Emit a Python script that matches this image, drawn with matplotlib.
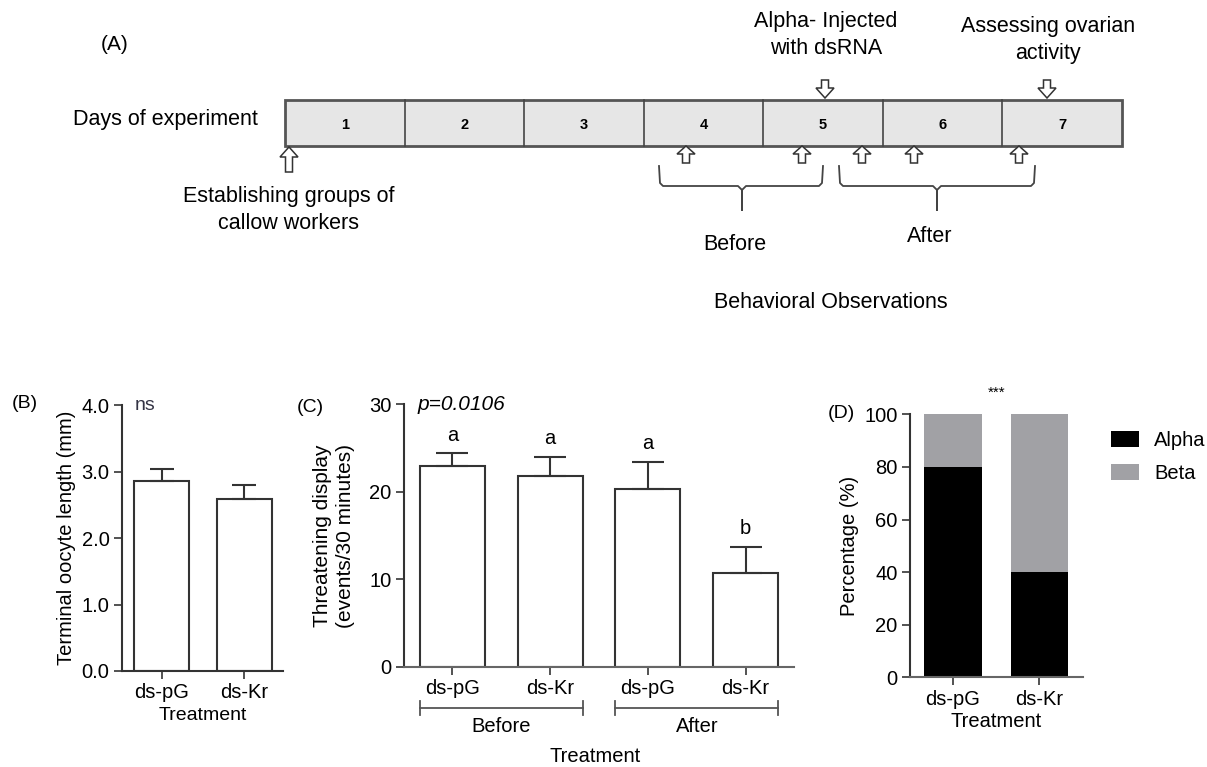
import matplotlib
matplotlib.use("Agg")
import matplotlib.pyplot as plt
import matplotlib.transforms as mtransforms
from matplotlib.patches import Rectangle, FancyArrow
import numpy as np

plt.rcParams['font.family'] = ['Liberation Sans', 'DejaVu Sans']

# ---------------- data ----------------
days = ["1", "2", "3", "4", "5", "6", "7"]
treat_B = ["ds-pG", "ds-Kr"]
oocyte_mean = [2.85, 2.58]
oocyte_sem = [0.19, 0.22]
B_yticks = [0.0, 1.0, 2.0, 3.0, 4.0]

treat_C = ["ds-pG", "ds-Kr", "ds-pG", "ds-Kr"]
threat_mean = [23.0, 21.8, 20.3, 10.7]
threat_sem = [1.4, 2.2, 3.1, 3.0]
threat_letters = ["a", "a", "a", "b"]
C_groups = ["Before", "After"]
C_yticks = [0, 10, 20, 30]

treat_D = ["ds-pG", "ds-Kr"]
alpha_pct = [80, 40]
beta_pct = [20, 60]
D_yticks = [0, 20, 40, 60, 80, 100]

W, H = 1207, 767
fig = plt.figure(figsize=(W / 100, H / 100), dpi=100)

def rect(l, t, r, b):
    return [l / W, 1 - b / H, (r - l) / W, (b - t) / H]

FS = 14
FSA = 15.5

# ---------------- Panel A (diagram) ----------------
axA = fig.add_axes([0, 0, 1, 1])
axA.set_xlim(0, W)
axA.set_ylim(H, 0)
axA.axis("off")

axA.text(115, 45, "(A)", fontsize=FSA - 0.5, ha="center", va="center")
axA.text(73, 120, "Days of experiment", fontsize=FSA, ha="left", va="center")

box_l, box_r, box_t, box_b = 285, 1122, 100, 146
cw = (box_r - box_l) / len(days)
axA.add_patch(Rectangle((box_l, box_t), box_r - box_l, box_b - box_t,
                        facecolor="#e6e6e6", edgecolor="#555555", lw=2.0))
for i, d in enumerate(days):
    if i > 0:
        axA.plot([box_l + i * cw] * 2, [box_t, box_b], color="#444444", lw=1.2)
    axA.text(box_l + (i + 0.5) * cw, 125, d, fontsize=10.5, fontweight="bold",
             ha="center", va="center")

def block_arrow(x, y_tail, y_tip, w=5, hw=14, hl=7):
    axA.add_patch(FancyArrow(x, y_tail, 0, y_tip - y_tail, width=w,
                             head_width=hw, head_length=hl,
                             length_includes_head=True,
                             facecolor="white", edgecolor="#333333", lw=1.1))

block_arrow(825, 80, 98, w=7, hw=18, hl=10)
block_arrow(1047, 80, 98, w=7, hw=18, hl=10)
block_arrow(289, 172, 147, w=7, hw=18, hl=10)
for xa in [686, 802, 862, 914, 1019]:
    block_arrow(xa, 163, 146, w=7, hw=18, hl=8)

def brace(xl, xr, xm, yt=166, yh=186, yb=210):
    xs = [xl, xl + 1, xl + 4, xm - 4, xm, xm, xm, xm + 4, xr - 4, xr - 1, xr]
    ys = [yt, yh - 3, yh, yh, yh + 4, yb, yh + 4, yh, yh, yh - 3, yt]
    axA.plot(xs, ys, color="#444444", lw=1.3, solid_joinstyle="round")

brace(659, 823, 742)
brace(839, 1035, 937)

axA.text(735, 244, "Before", fontsize=FSA, ha="center", va="center")
axA.text(930, 237, "After", fontsize=FSA, ha="center", va="center")
axA.text(831, 302, "Behavioral Observations", fontsize=FSA, ha="center", va="center")
axA.text(289, 210, "Establishing groups of\ncallow workers", fontsize=FSA,
         ha="center", va="center", linespacing=1.4)
axA.text(826, 35, "Alpha- Injected\nwith dsRNA", fontsize=FSA,
         ha="center", va="center", linespacing=1.35)
axA.text(1048, 40, "Assessing ovarian\nactivity", fontsize=FSA,
         ha="center", va="center", linespacing=1.4)

def style_axes(ax):
    for s in ["top", "right"]:
        ax.spines[s].set_visible(False)
    for s in ["left", "bottom"]:
        ax.spines[s].set_linewidth(1.5)
        ax.spines[s].set_color("#333333")
    ax.tick_params(axis="both", direction="out", length=6, width=1.3,
                   color="#444444", labelsize=FS + 0.5, pad=3)

# ---------------- Panel B ----------------
axB = fig.add_axes(rect(122, 405, 283, 671))
xB = np.arange(len(treat_B))
axB.bar(xB, oocyte_mean, width=0.667, facecolor="white", edgecolor="#333333",
        lw=1.5, zorder=2)
axB.errorbar(xB, oocyte_mean, yerr=[np.zeros(len(xB)), oocyte_sem], fmt="none",
             ecolor="#333333", elinewidth=1.5, capsize=8.5, capthick=1.5, zorder=3)
axB.set_xlim(-0.48, 1.47)
axB.set_ylim(0, 4.0)
axB.set_yticks(B_yticks)
axB.set_yticklabels([f"{v:.1f}" for v in B_yticks])
axB.set_xticks(xB)
axB.set_xticklabels(treat_B)
style_axes(axB)
axB.set_ylabel("Terminal oocyte length (mm)", fontsize=FS + 0.5, labelpad=4)
axB.set_xlabel("Treatment", fontsize=FS, labelpad=3)
axB.text(0.08, 1.0, "ns", transform=axB.transAxes, fontsize=FS, ha="left",
         va="center", color="#333344")
fig.text(25 / W, 1 - 403 / H, "(B)", fontsize=FS, ha="center", va="center")

# ---------------- Panel C ----------------
axC = fig.add_axes(rect(404, 404.3, 794, 666.7))
xC = np.arange(len(treat_C))
axC.bar(xC, threat_mean, width=0.667, facecolor="white", edgecolor="#333333",
        lw=1.5, zorder=2)
axC.errorbar(xC, threat_mean, yerr=[np.zeros(len(xC)), threat_sem], fmt="none",
             ecolor="#333333", elinewidth=1.5, capsize=11.5, capthick=1.5, zorder=3)
for xi, m, s, lt in zip(xC, threat_mean, threat_sem, threat_letters):
    axC.text(xi, m + s + 1.0, lt, fontsize=FS + 0.5, ha="center", va="bottom")
axC.set_xlim(-0.496, 3.495)
axC.set_ylim(0, 30)
axC.set_yticks(C_yticks)
axC.set_xticks(xC)
axC.set_xticklabels(treat_C)
style_axes(axC)
axC.spines["bottom"].set_color("#666666")
axC.set_ylabel("Threatening display\n(events/30 minutes)", fontsize=15,
               labelpad=10, linespacing=1.3)
axC.set_xlabel("Treatment", fontsize=FS + 0.5)
axC.xaxis.set_label_coords(0.49, -(747 - 666.7) / 262.4)
axC.text(0.035, 1.0, "p=0.0106", transform=axC.transAxes, fontsize=15,
         style="italic", ha="left", va="center")
trC = mtransforms.blended_transform_factory(axC.transData, axC.transAxes)
ybr = -(708 - 666.7) / 262.4
tk = 7 / 262.4
for gi, g in enumerate(C_groups):
    x0 = 2 * gi - 0.333
    x1 = 2 * gi + 1 + 0.333
    axC.plot([x0, x1], [ybr, ybr], transform=trC, clip_on=False, color="#555555", lw=1.3)
    for xx in (x0, x1):
        axC.plot([xx, xx], [ybr - tk, ybr + tk], transform=trC, clip_on=False,
                 color="#555555", lw=1.3)
    axC.text(2 * gi + 0.5, ybr - 0.035, g, transform=trC, fontsize=FS + 0.5,
             ha="center", va="top")
fig.text(310 / W, 1 - 408 / H, "(C)", fontsize=FS, ha="center", va="center")

# ---------------- Panel D ----------------
axD = fig.add_axes(rect(910, 414.3, 1083, 677.3))
xD = np.arange(len(treat_D))
axD.bar(xD, alpha_pct, width=0.67, color="black", label="Alpha", zorder=2)
axD.bar(xD, beta_pct, bottom=alpha_pct, width=0.67, color="#a1a1a5",
        label="Beta", zorder=2)
axD.set_xlim(-0.497, 1.503)
axD.set_ylim(0, 100)
axD.set_yticks(D_yticks)
axD.set_xticks(xD)
axD.set_xticklabels(treat_D)
style_axes(axD)
axD.spines["bottom"].set_color("#666666")
axD.set_ylabel("Percentage (%)", fontsize=FS + 0.5, labelpad=4)
axD.set_xlabel("Treatment", fontsize=FS + 0.5, labelpad=2)
axD.text(0.5, 1.08, "***", transform=axD.transAxes, fontsize=11,
         ha="center", va="center")
axD.legend(loc="upper left", bbox_to_anchor=(1097 / W, 1 - 417 / H),
           bbox_transform=fig.transFigure, frameon=False, fontsize=FS + 0.5,
           handlelength=1.4, handleheight=0.8, labelspacing=0.7,
           handletextpad=0.75, borderpad=0.2)
fig.text(841 / W, 1 - 414 / H, "(D)", fontsize=FS, ha="center", va="center")

fig.savefig("out.png", dpi=100)
